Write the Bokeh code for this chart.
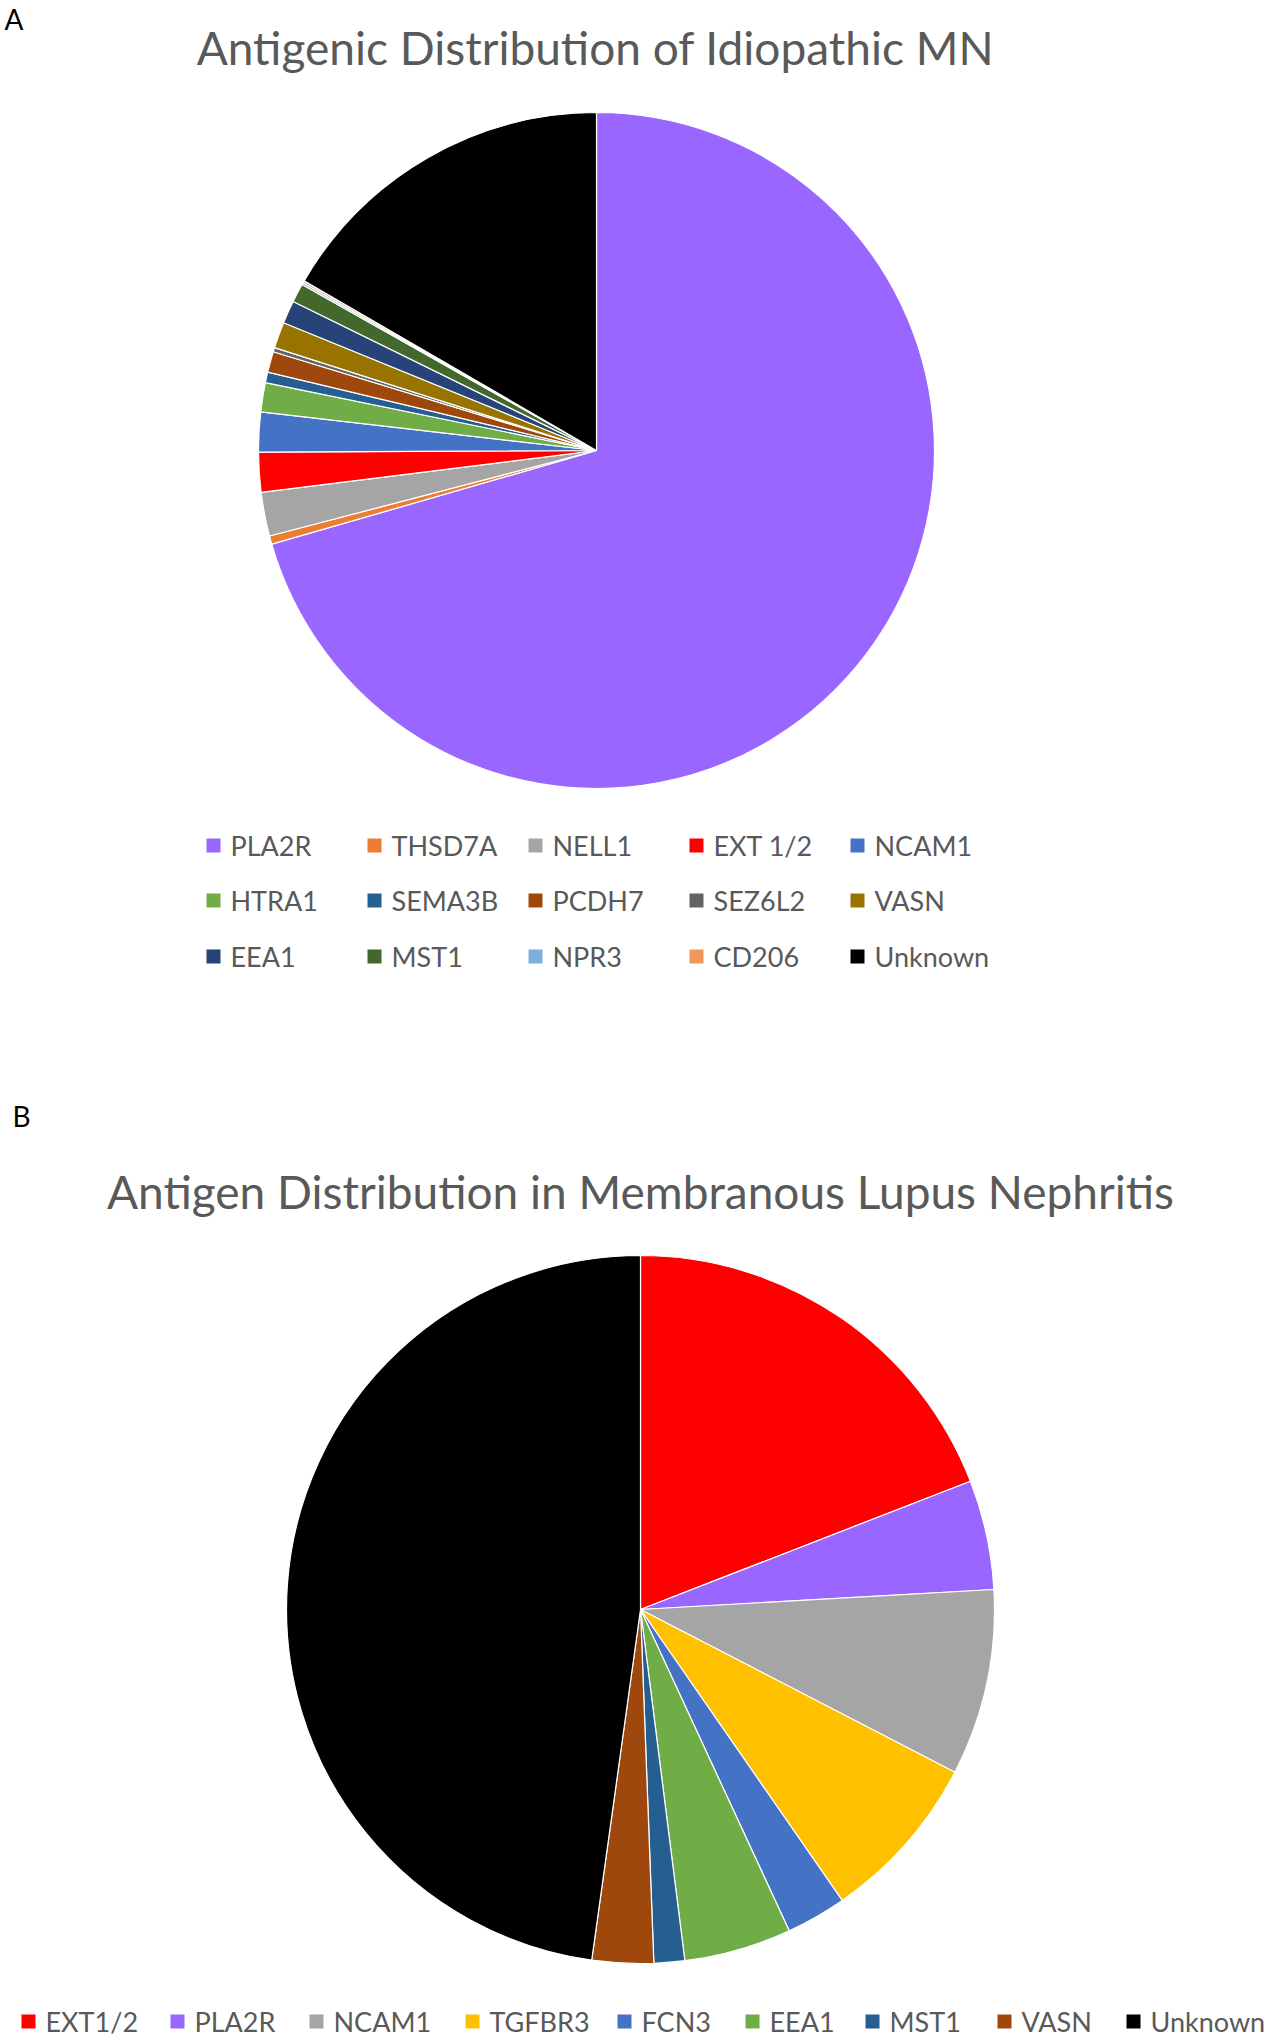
from math import pi
from bokeh.plotting import figure
from bokeh.models import ColumnDataSource, Range1d
from bokeh.core.properties import value
from bokeh.embed import file_html
from bokeh.resources import INLINE

# ---- data: panel A ----
a_labels = ["PLA2R", "THSD7A", "NELL1", "EXT 1/2", "NCAM1", "HTRA1", "SEMA3B", "PCDH7",
            "SEZ6L2", "VASN", "EEA1", "MST1", "NPR3", "CD206", "Unknown"]
a_values = [70.6, 0.4, 2.1, 1.9, 1.9, 1.4, 0.5, 1.0, 0.2, 1.25, 1.1, 0.9, 0.1, 0.1, 16.65]
a_colors = ["#9966FF", "#ED7D31", "#A5A5A5", "#FF0000", "#4472C4", "#70AD47", "#255E91", "#9E480E",
            "#636363", "#997300", "#264478", "#43682B", "#7CAFDD", "#F1975A", "#000000"]

# ---- data: panel B ----
b_labels = ["EXT1/2", "PLA2R", "NCAM1", "TGFBR3", "FCN3", "EEA1", "MST1", "VASN", "Unknown"]
b_values = [19.1, 5.0, 8.5, 7.75, 2.75, 4.9, 1.4, 2.8, 47.8]
b_colors = ["#FF0000", "#9966FF", "#A5A5A5", "#FFC000", "#4472C4", "#70AD47", "#255E91", "#9E480E", "#000000"]

title_a = "Antigenic Distribution of Idiopathic MN"
title_b = "Antigen Distribution in Membranous Lupus Nephritis"

W, H = 1276, 2040
FONT = "Lato"
GRAY = "#595959"

p = figure(width=W, height=H, output_backend="svg", toolbar_location=None,
           x_range=Range1d(0, W), y_range=Range1d(0, H),
           x_axis_type=None, y_axis_type=None, min_border=0)
p.outline_line_color = None
p.grid.visible = False

def Y(y):
    return H - y

def pie(labels, values, colors, cx, cy, r):
    tot = sum(values)
    starts, ends = [], []
    c = 0.0
    for v in values:
        starts.append(pi / 2 - c / tot * 2 * pi)
        c += v
        ends.append(pi / 2 - c / tot * 2 * pi)
    src = ColumnDataSource(dict(start=starts, end=ends, color=colors, label=labels,
                                x=[cx] * len(values), y=[Y(cy)] * len(values)))
    p.wedge(x="x", y="y", radius=r, start_angle="start", end_angle="end",
            direction="clock", fill_color="color", line_color="white", line_width=1.2,
            source=src)

pie(a_labels, a_values, a_colors, 596, 450, 338)
pie(b_labels, b_values, b_colors, 640, 1609, 354)

def legend(labels, colors, xs, ys):
    src = ColumnDataSource(dict(x=xs, y=[Y(v) for v in ys], color=colors, label=labels,
                                tx=[x + 17 for x in xs]))
    p.rect(x="x", y="y", width=14, height=14, fill_color="color", line_color=None, source=src)
    p.text(x="tx", y="y", text="label", text_font=value(FONT), text_font_size="27px",
           text_color=GRAY, text_baseline="middle", text_align="left", source=src)

col_x = [213, 374, 535, 696, 857]
row_y = [845, 900, 956]
ax = [col_x[i % 5] for i in range(len(a_labels))]
ay = [row_y[i // 5] for i in range(len(a_labels))]
legend(a_labels, a_colors, ax, ay)

bx = [28, 177, 316, 472, 624, 752, 872, 1004, 1133]
legend(b_labels, b_colors, bx, [2021] * len(b_labels))

p.text(x=[595], y=[Y(47)], text=[title_a], text_font=value(FONT), text_font_size="46px",
       text_color=GRAY, text_align="center", text_baseline="middle")
p.text(x=[640], y=[Y(1191)], text=[title_b], text_font=value(FONT), text_font_size="46px",
       text_color=GRAY, text_align="center", text_baseline="middle")
p.text(x=[4], y=[Y(18)], text=["A"], text_font=value(FONT), text_font_size="28px",
       text_color="black", text_align="left", text_baseline="middle")
p.text(x=[12], y=[Y(1115)], text=["B"], text_font=value(FONT), text_font_size="28px",
       text_color="black", text_align="left", text_baseline="middle")

open("out.html", "w").write(file_html(p, INLINE))
